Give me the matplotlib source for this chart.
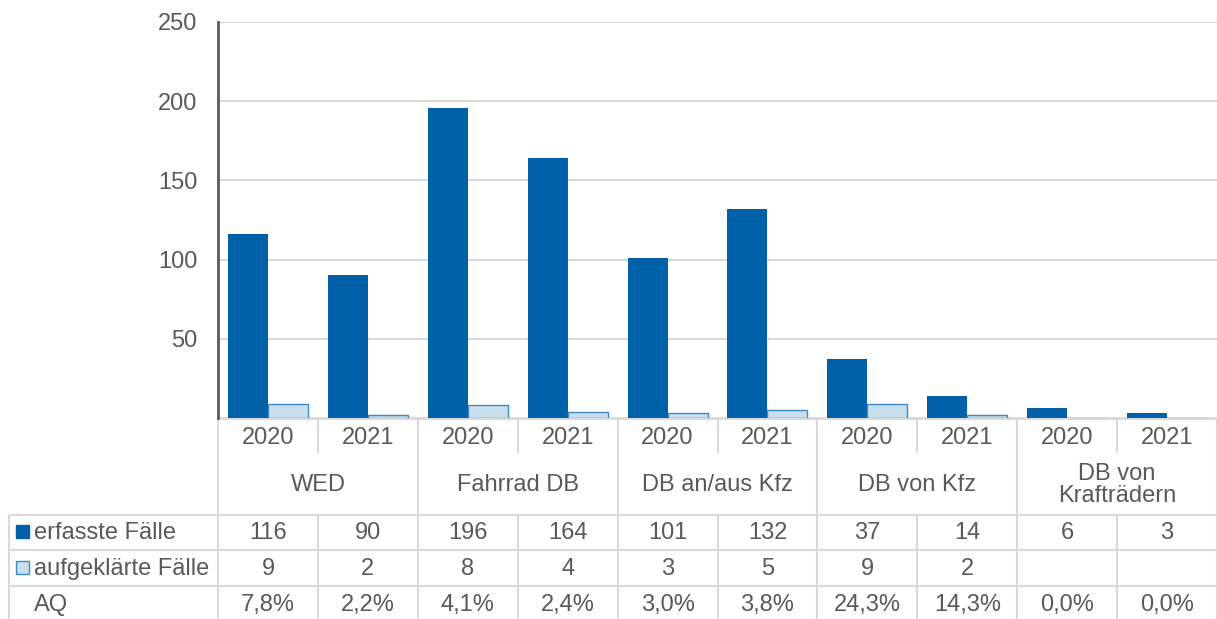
import matplotlib
matplotlib.use("Agg")
import matplotlib.pyplot as plt
from matplotlib.patches import Rectangle
import numpy as np

plt.rcParams['font.family'] = ['Liberation Sans', 'DejaVu Sans']

# Data
groups = ["WED", "Fahrrad DB", "DB an/aus Kfz", "DB von Kfz", "DB von\nKrafträdern"]
years = ["2020", "2021"] * 5
erfasst = [116, 90, 196, 164, 101, 132, 37, 14, 6, 3]
aufgeklaert = [9, 2, 8, 4, 3, 5, 9, 2, None, None]
aq_labels = ["7,8%", "2,2%", "4,1%", "2,4%", "3,0%", "3,8%", "24,3%", "14,3%", "0,0%", "0,0%"]
yticks = [50, 100, 150, 200, 250]

DARK = "#0060A8"
LIGHT = "#C8DFEE"
LIGHT_EDGE = "#3D8AC6"
TEXT = "#595959"
GRID = "#D9D9D9"
FS = 17

W, H = 1217, 619
fig = plt.figure(figsize=(W / 100, H / 100), dpi=100)
x0, x1, ytop, ybot = 218, 1217, 22, 418
ax = fig.add_axes([x0 / W, (H - ybot) / H, (x1 - x0) / W, (ybot - ytop) / H])

n = len(erfasst)
x = np.arange(n)
bw = 0.4
ax.bar(x - bw / 2, erfasst, width=bw, color=DARK, zorder=3)
auf_vals = [v if v is not None else 0 for v in aufgeklaert]
ax.bar(x + bw / 2, auf_vals, width=bw, color=LIGHT, edgecolor=LIGHT_EDGE,
       linewidth=1.0, zorder=3)

ax.set_xlim(-0.5, n - 0.5)
ax.set_ylim(0, 250)
ax.set_yticks(yticks)
ax.set_yticklabels([str(t) for t in yticks], fontsize=FS, color=TEXT)
ax.tick_params(axis='y', length=0, pad=15)
ax.set_xticks([])
ax.grid(axis='y', color=GRID, linewidth=1.5, zorder=0)
for s in ['top', 'right', 'bottom']:
    ax.spines[s].set_visible(False)
ax.spines['left'].set_color(TEXT)
ax.spines['left'].set_linewidth(2)
ax.spines['left'].set_zorder(4)

# Table below the axis: y given in figure pixels from the top
px_h = ybot - ytop
def ay(p):
    return (ybot - p) / px_h

tr = ax.get_xaxis_transform()

def hline(p, xa, xb, lw=1.5):
    ax.plot([xa, xb], [ay(p), ay(p)], transform=tr, color=GRID, lw=lw,
            clip_on=False, zorder=2, solid_capstyle='butt')

def vline(xv, pa, pb):
    ax.plot([xv, xv], [ay(pa), ay(pb)], transform=tr, color=GRID, lw=1.5,
            clip_on=False, zorder=2, solid_capstyle='butt')

left_edge = -0.5 - (x0 - 9) / 100.0
right_edge = n - 0.5
hline(ybot, -0.5, right_edge, lw=2)
for p in [515, 550, 586]:
    hline(p, left_edge, right_edge)

for i in range(n + 1):
    xv = i - 0.5
    if i % 2 == 0:
        vline(xv, ybot, 619)
    else:
        vline(xv, ybot, 453)
        vline(xv, 515, 619)
vline(left_edge, 515, 619)

# Year and category labels
for i, yr in enumerate(years):
    ax.text(i, ay(438), yr, transform=tr, ha='center', va='center',
            fontsize=FS, color=TEXT, clip_on=False)
for g, name in enumerate(groups):
    ax.text(2 * g + 0.5, ay(485), name, transform=tr, ha='center', va='center',
            fontsize=FS, color=TEXT, linespacing=1.0, clip_on=False)

# Data rows
rows = [
    (533, [str(v) for v in erfasst]),
    (569, ["" if v is None else str(v) for v in aufgeklaert]),
    (605, aq_labels),
]
for p, vals in rows:
    for i, v in enumerate(vals):
        ax.text(i, ay(p), v, transform=tr, ha='center', va='center',
                fontsize=FS, color=TEXT, clip_on=False)

# Row headers with legend keys
lx_fig = 34 / W
for p, label, fc, ec in [(533, "erfasste Fälle", DARK, DARK),
                          (569, "aufgeklärte Fälle", LIGHT, LIGHT_EDGE)]:
    fig.patches.append(Rectangle((16 / W, (H - p - 5) / H), 13 / W, 13 / H,
                                 transform=fig.transFigure, facecolor=fc,
                                 edgecolor=ec, linewidth=1))
    fig.text(lx_fig, (H - p) / H, label, ha='left', va='center',
             fontsize=FS, color=TEXT)
fig.text(lx_fig, (H - 605) / H, "AQ", ha='left', va='center',
         fontsize=FS, color=TEXT)

fig.savefig("out.png", dpi=100)
